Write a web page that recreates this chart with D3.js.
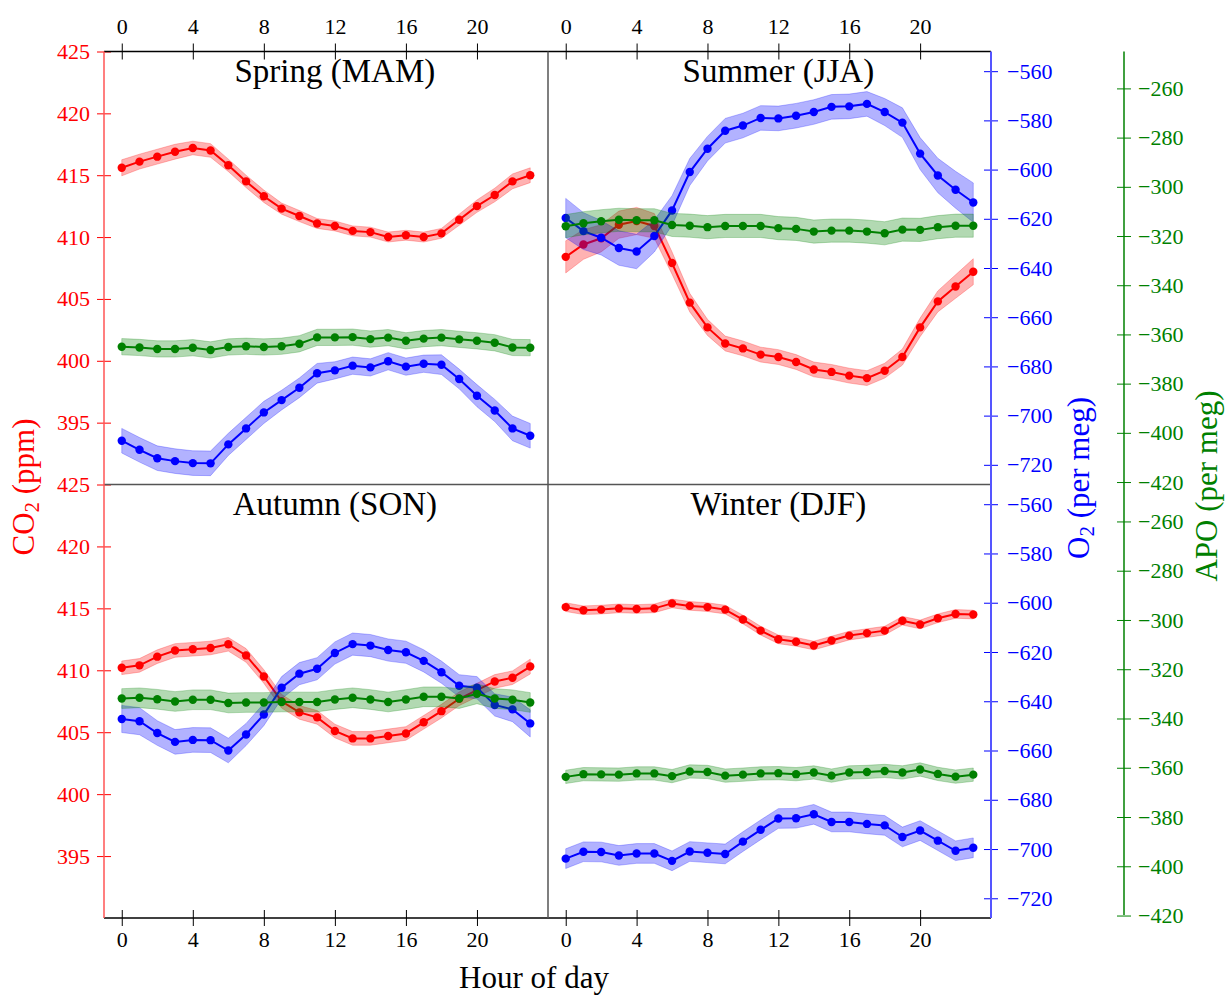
<!DOCTYPE html>
<html><head><meta charset="utf-8">
<script src="https://cdn.jsdelivr.net/npm/d3@7"></script>
<style>body{margin:0;background:#fff}svg{display:block}svg text{font-family:"Liberation Serif",serif !important}</style>
</head><body><svg id="c" width="1227" height="997" font-family="Liberation Serif"></svg>
<script>
const hours=[0,1,2,3,4,5,6,7,8,9,10,11,12,13,14,15,16,17,18,19,20,21,22,23];
const seasons=["Spring (MAM)","Summer (JJA)","Autumn (SON)","Winter (DJF)"];

const co2Spring=[415.6,416.1,416.5,416.9,417.2,417.0,415.8,414.5,413.3,412.3,411.7,411.1,410.9,410.5,410.4,410.0,410.15,410.0,410.3,411.4,412.5,413.4,414.5,415.0];
const o2Spring=[-710.2,-713.9,-717.3,-718.5,-719.3,-719.4,-711.7,-705.2,-698.7,-693.7,-688.7,-682.8,-681.6,-679.7,-680.4,-677.9,-680.1,-678.9,-679.3,-685.1,-691.9,-697.9,-705.2,-708.2];
const apoSpring=[-365.0,-365.3,-365.9,-365.9,-365.4,-366.3,-365.1,-364.8,-365.1,-364.8,-363.8,-361.2,-361.2,-361.1,-361.9,-361.3,-362.6,-361.7,-361.3,-362.0,-362.6,-363.4,-365.3,-365.4];

const co2Summer=[408.4,409.4,409.9,411.0,411.3,410.9,407.9,404.7,402.7,401.4,401.0,400.5,400.3,399.9,399.3,399.1,398.8,398.6,399.2,400.3,402.7,404.8,406.0,407.2];
const o2Summer=[-619.7,-625.0,-627.7,-631.9,-633.3,-627.0,-616.6,-601.0,-591.5,-584.2,-582.1,-579.0,-579.2,-578.1,-576.6,-574.5,-574.3,-573.3,-576.6,-580.9,-593.5,-602.4,-608.2,-613.4];
const apoSummer=[-316.0,-314.8,-314.0,-313.4,-313.6,-313.6,-315.5,-315.8,-316.4,-315.9,-315.9,-315.9,-316.8,-317.1,-318.2,-317.8,-317.8,-318.2,-318.9,-317.4,-317.5,-316.4,-315.8,-315.8];

const co2Autumn=[410.2,410.4,411.1,411.6,411.7,411.8,412.1,411.2,409.5,407.5,406.6,406.2,405.1,404.5,404.5,404.7,404.9,405.8,406.7,407.7,408.4,409.1,409.4,410.3];
const o2Autumn=[-647.2,-648.1,-652.9,-656.5,-655.7,-655.8,-660.0,-653.5,-645.4,-634.5,-628.8,-626.8,-620.4,-616.8,-617.4,-619.2,-620.1,-623.6,-628.2,-633.7,-634.5,-641.5,-643.3,-649.0];
const apoAutumn=[-331.9,-331.6,-332.2,-333.1,-332.4,-332.4,-333.7,-333.5,-333.5,-333.3,-333.3,-333.3,-332.3,-331.6,-332.3,-333.3,-332.3,-331.2,-331.2,-331.9,-330.0,-331.9,-332.4,-333.5];

const co2Winter=[415.1,414.85,414.9,415.0,414.95,415.0,415.4,415.2,415.1,414.9,414.1,413.2,412.5,412.3,412.0,412.4,412.8,413.0,413.2,414.0,413.7,414.2,414.55,414.5];
const o2Winter=[-703.9,-701.1,-701.2,-702.6,-701.8,-701.8,-704.8,-701.0,-701.5,-702.0,-697.0,-692.2,-687.6,-687.5,-685.9,-689.0,-689.0,-689.8,-690.4,-695.1,-692.5,-696.6,-700.7,-699.5];
const apoWinter=[-363.7,-362.6,-362.7,-362.8,-362.3,-362.3,-363.4,-361.5,-361.7,-363.2,-362.8,-362.3,-362.2,-362.6,-361.9,-363.2,-361.9,-361.7,-361.3,-361.9,-360.7,-362.5,-363.6,-362.8];

const co2ErrSpring=[0.65,0.6,0.6,0.6,0.55,0.55,0.5,0.5,0.5,0.45,0.45,0.4,0.4,0.4,0.4,0.4,0.4,0.4,0.4,0.45,0.5,0.55,0.6,0.6];
const o2ErrSpring=[5,5,5,5,5,5,4.5,4.5,4.5,4,4,4,3.5,3.5,3.5,3.5,3.5,3.5,4,4,4.5,4.5,5,5];
const apoErrSpring=[3.3,3.3,3.3,3.3,3.3,3.3,3.3,3.3,3.3,3.3,3.3,3.3,3.3,3.3,3.3,3.3,3.3,3.3,3.3,3.3,3.3,3.3,3.3,3.3];
const co2ErrSummer=[1.3,1.2,1.1,1.1,1.1,1.0,0.9,0.75,0.65,0.6,0.6,0.6,0.6,0.6,0.6,0.6,0.6,0.6,0.6,0.65,0.75,0.85,0.95,1.05];
const o2ErrSummer=[8,7.5,7,7,7,6.5,6,5.5,5,5,5,5,5,5,5,5,5,5,5.5,6,6.5,7,7.5,8];
const apoErrSummer=[4.7,4.7,4.7,4.7,4.7,4.7,4.7,4.7,4.7,4.7,4.7,4.7,4.7,4.7,4.7,4.7,4.7,4.7,4.7,4.7,4.7,4.7,4.7,4.7];
const co2ErrAutumn=[0.55,0.55,0.55,0.55,0.55,0.55,0.55,0.55,0.55,0.55,0.55,0.55,0.55,0.55,0.55,0.55,0.55,0.55,0.55,0.55,0.55,0.55,0.55,0.6];
const o2ErrAutumn=[5.5,5.5,5,5,5,5,5,4.5,4.5,4.5,4.5,4.5,4.5,4.5,4.5,4.5,4.5,4.5,4.5,4.5,4.5,4.5,5,5.5];
const apoErrAutumn=[4,4,4,4,4,4,4,4,4,4,4,4,4,4,4,4,4,4,4,4,4,4,4,4];
const co2ErrWinter=[0.35,0.35,0.35,0.35,0.35,0.35,0.35,0.35,0.35,0.35,0.35,0.35,0.35,0.35,0.35,0.35,0.35,0.35,0.35,0.35,0.35,0.35,0.35,0.35];
const o2ErrWinter=[4,4,4,4,4,4,4,4,4,4,4,4,4,4,4,4,4,4,4,4,4,4,4,4];
const apoErrWinter=[2.7,2.7,2.7,2.7,2.7,2.7,2.7,2.7,2.7,2.7,2.7,2.7,2.7,2.7,2.7,2.7,2.7,2.7,2.7,2.7,2.7,2.7,2.7,2.7];

const xTicks=[0,4,8,12,16,20];
const co2Ticks=[395,400,405,410,415,420,425];
const o2Ticks=[-560,-580,-600,-620,-640,-660,-680,-700,-720];
const apoTicks=[-260,-280,-300,-320,-340,-360,-380,-400,-420];
const xDomain=[-1,24], co2Domain=[390,425], o2Domain=[-728,-552], apoDomain=[-421,-245];

const svg=d3.select("#c");
svg.append("rect").attr("width",1227).attr("height",997).attr("fill","#fff");
const L=104,M=548,R=991,T=51.5,H=484.5,B=918,GX=1124;
const FS=22;

const panels=[
 {title:seasons[0],co2:co2Spring,o2:o2Spring,apo:apoSpring,ec:co2ErrSpring,eo:o2ErrSpring,ea:apoErrSpring,x0:L,x1:M,y0:T,y1:H,col:0,row:0},
 {title:seasons[1],co2:co2Summer,o2:o2Summer,apo:apoSummer,ec:co2ErrSummer,eo:o2ErrSummer,ea:apoErrSummer,x0:M,x1:R,y0:T,y1:H,col:1,row:0},
 {title:seasons[2],co2:co2Autumn,o2:o2Autumn,apo:apoAutumn,ec:co2ErrAutumn,eo:o2ErrAutumn,ea:apoErrAutumn,x0:L,x1:M,y0:H,y1:B,col:0,row:1},
 {title:seasons[3],co2:co2Winter,o2:o2Winter,apo:apoWinter,ec:co2ErrWinter,eo:o2ErrWinter,ea:apoErrWinter,x0:M,x1:R,y0:H,y1:B,col:1,row:1}
];

const RED="#ff0000",BLUE="#0000ff",GREEN="#008000";

function styleAxis(a,color){
  a.attr("font-family",null).attr("font-size",null);
  a.select(".domain").remove();
  a.selectAll(".tick text").attr("font-family","Liberation Serif").attr("font-size",FS).attr("fill",color);
  a.selectAll(".tick line").attr("stroke",color);
}

panels.forEach(p=>{
  const x=d3.scaleLinear().domain(xDomain).range([p.x0,p.x1]);
  const yc=d3.scaleLinear().domain(co2Domain).range([p.y1,p.y0]);
  const yo=d3.scaleLinear().domain(o2Domain).range([p.y1,p.y0]);
  const ya=d3.scaleLinear().domain(apoDomain).range([p.y1,p.y0]);
  const g=svg.append("g");
  const series=[
    {v:p.co2,e:p.ec,y:yc,c:RED},
    {v:p.o2,e:p.eo,y:yo,c:BLUE},
    {v:p.apo,e:p.ea,y:ya,c:GREEN}
  ];
  series.forEach(s=>{
    const d=hours.map((h,i)=>({h,v:s.v[i],e:s.e[i]}));
    const area=d3.area().x(q=>x(q.h)).y0(q=>s.y(q.v-q.e)).y1(q=>s.y(q.v+q.e));
    g.append("path").attr("d",area(d)).attr("fill",s.c).attr("fill-opacity",0.3)
      .attr("stroke",s.c).attr("stroke-opacity",0.25).attr("stroke-width",1);
    const line=d3.line().x(q=>x(q.h)).y(q=>s.y(q.v));
    g.append("path").attr("d",line(d)).attr("fill","none").attr("stroke",s.c).attr("stroke-width",2);
    g.selectAll(null).data(d).enter().append("circle")
      .attr("cx",q=>x(q.h)).attr("cy",q=>s.y(q.v)).attr("r",4.2).attr("fill",s.c);
  });

  svg.append("text").attr("x",x(12)).attr("y",p.y0+30.5).attr("text-anchor","middle")
    .attr("font-size",33).attr("fill","#000").text(p.title);

  if(p.row===0){
    const ax=svg.append("g").attr("transform",`translate(0,${T})`)
      .call(d3.axisTop(x).tickValues(xTicks).tickSize(8).tickSizeOuter(0).tickFormat(d3.format("d")));
    styleAxis(ax,"#000");
    ax.selectAll(".tick line").attr("y1",8);
    ax.selectAll(".tick text").attr("y",-18);
  } else {
    const ax=svg.append("g").attr("transform",`translate(0,${B})`)
      .call(d3.axisBottom(x).tickValues(xTicks).tickSize(8).tickSizeOuter(0).tickFormat(d3.format("d")));
    styleAxis(ax,"#000");
    ax.selectAll(".tick line").attr("y1",-8);
    ax.selectAll(".tick text").attr("y",13);
  }

  if(p.col===0){
    const ay=svg.append("g").attr("transform",`translate(${L},0)`)
      .call(d3.axisLeft(yc).tickValues(co2Ticks).tickSize(7).tickSizeOuter(0).tickFormat(d3.format("d")));
    styleAxis(ay,RED);
    ay.selectAll(".tick line").attr("x1",7);
    ay.selectAll(".tick text").attr("x",-14);
  } else {
    const ao=svg.append("g").attr("transform",`translate(${R},0)`)
      .call(d3.axisRight(yo).tickValues(o2Ticks).tickSize(7).tickSizeOuter(0).tickFormat(d3.format("d")));
    styleAxis(ao,BLUE);
    ao.selectAll(".tick line").attr("x1",-7);
    ao.selectAll(".tick text").attr("x",16);
    const aa=svg.append("g").attr("transform",`translate(${GX},0)`)
      .call(d3.axisRight(ya).tickValues(apoTicks).tickSize(7).tickSizeOuter(0).tickFormat(d3.format("d")));
    styleAxis(aa,GREEN);
    aa.selectAll(".tick line").attr("x1",-7);
    aa.selectAll(".tick text").attr("x",14);
  }
});

svg.append("line").attr("x1",L).attr("x2",R).attr("y1",T).attr("y2",T).attr("stroke","#000").attr("stroke-width",1.5);
svg.append("line").attr("x1",L).attr("x2",R).attr("y1",B).attr("y2",B).attr("stroke","#000").attr("stroke-width",1.5);
svg.append("line").attr("x1",L).attr("x2",R).attr("y1",H).attr("y2",H).attr("stroke","#555").attr("stroke-width",1.5);
svg.append("line").attr("x1",M).attr("x2",M).attr("y1",T).attr("y2",B).attr("stroke","#555").attr("stroke-width",1.5);
svg.append("line").attr("x1",L).attr("x2",L).attr("y1",T).attr("y2",B).attr("stroke","#ff5555").attr("stroke-width",1.5);
svg.append("line").attr("x1",R).attr("x2",R).attr("y1",T).attr("y2",B).attr("stroke","#5555ff").attr("stroke-width",2);
svg.append("line").attr("x1",GX).attr("x2",GX).attr("y1",T).attr("y2",915).attr("stroke",GREEN).attr("stroke-width",1.5);

function vtitle(xc,yc,color,main,sub,rest){
  const t=svg.append("text").attr("transform",`translate(${xc},${yc}) rotate(-90)`)
    .attr("text-anchor","middle").attr("dominant-baseline","middle")
    .attr("font-size",31).attr("fill",color);
  t.append("tspan").text(main);
  if(sub){ t.append("tspan").attr("font-size",21).attr("dy",7).text(sub); t.append("tspan").attr("dy",-7).text(rest); }
  else t.append("tspan").text(rest);
}
vtitle(27,487,RED,"CO","2"," (ppm)");
vtitle(1082,478,BLUE,"O","2"," (per meg)");
vtitle(1210,486,GREEN,"APO","", " (per meg)");
svg.append("text").attr("x",534).attr("y",988).attr("text-anchor","middle")
  .attr("font-size",31).attr("fill","#000").text("Hour of day");
</script></body></html>
